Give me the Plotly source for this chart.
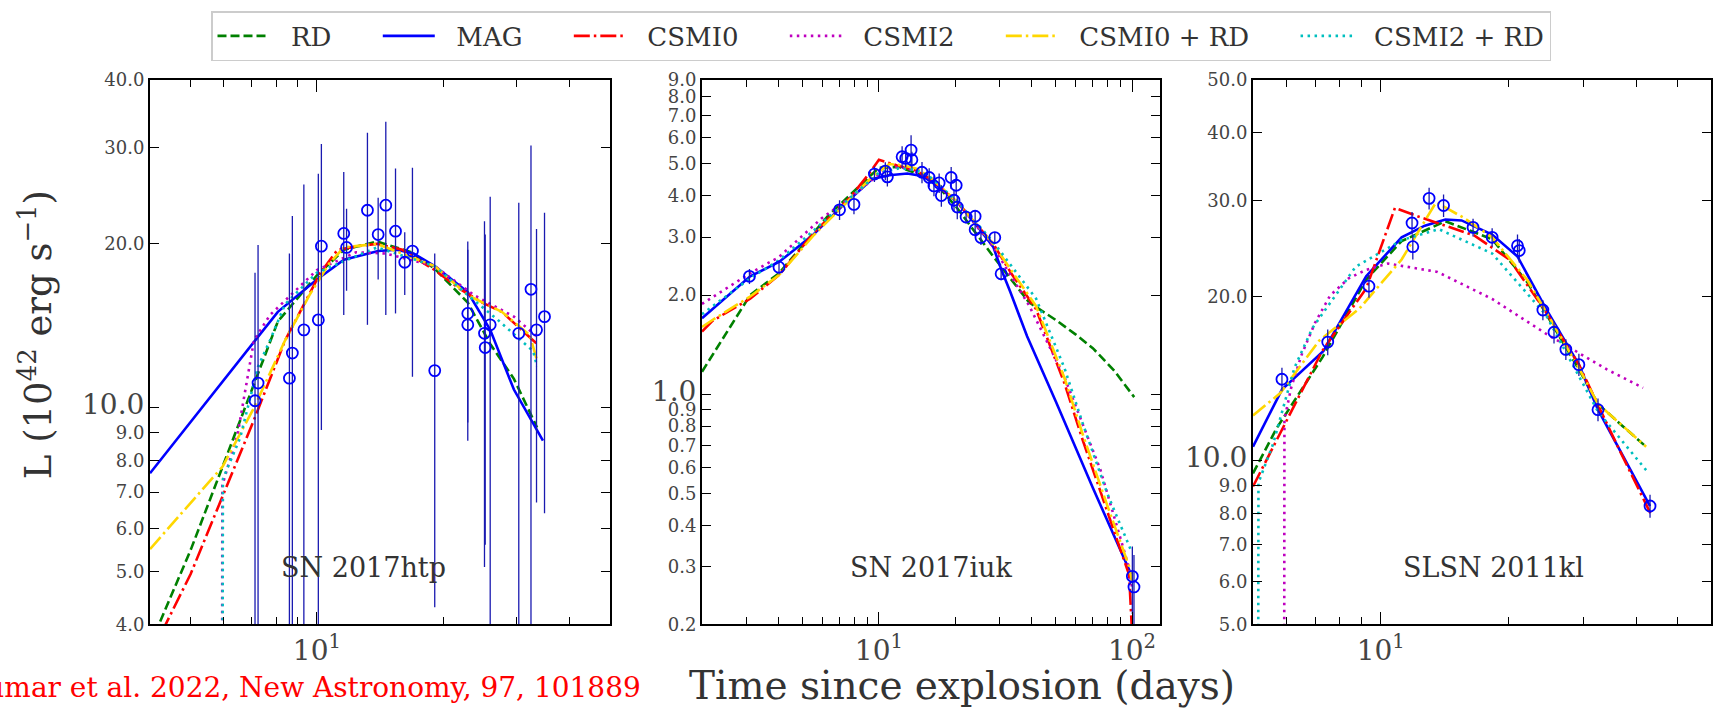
import numpy as np
import plotly.graph_objects as go

W, H = 1715, 715

# ---------------- data ----------------
# Panel 1: SN 2017htp
t1 = [7.12, 7.24, 8.60, 8.74, 9.31, 10.08, 10.25, 11.59, 11.77, 13.2, 14.0, 14.6, 15.4,
      16.2, 16.9, 19.1, 22.9, 22.9, 25.1, 25.2, 25.9, 30.3, 32.4, 33.4, 34.9]
L1 = [10.3, 11.1, 11.33, 12.6, 13.9, 14.5, 19.8, 20.9, 19.7, 23.05, 20.8, 23.55, 21.1,
      18.5, 19.4, 11.7, 14.9, 14.2, 13.7, 12.9, 14.2, 13.7, 16.5, 13.9, 14.7]
L1_hi = [17.7, 19.9, 19.2, 22.5, 25.7, 26.9, 30.5, 27.1, 23.2, 32.0, 24.3, 33.5, 27.5,
         21.0, 27.6, 19.2, 19.5, 20.2, 22.0, 20.8, 24.4, 23.8, 30.3, 21.3, 22.8]
L1_lo = [2.0, 2.0, 2.0, 2.0, 2.0, 2.0, 9.1, 14.8, 16.4, 14.2, 17.2, 14.8, 14.9,
         16.1, 11.4, 4.3, 8.7, 9.4, 5.1, 5.6, 2.0, 2.0, 2.0, 6.7, 6.4]

p1_RD_t = [4.0, 4.2, 5.01, 5.96, 7.08, 8.07, 10.0, 11.6, 13.9, 16.8, 19.1, 22.9, 25.9, 29.5, 33.5]
p1_RD_L = [3.66, 4.0, 5.5, 7.8, 11.1, 14.4, 17.5, 19.5, 20.2, 19.3, 18.0, 15.6, 13.1, 11.3, 9.2]
p1_MAG_t = [4.0, 7.12, 8.07, 10.0, 11.6, 14.0, 15.5, 17.0, 19.1, 22.9, 25.9, 29.5, 34.6]
p1_MAG_L = [7.58, 13.3, 15.0, 17.2, 18.7, 19.4, 19.5, 19.2, 18.2, 16.3, 13.9, 10.8, 8.7]
p1_C0_t = [4.0, 4.36, 5.0, 7.08, 8.4, 10.2, 11.2, 12.5, 13.9, 16.0, 19.1, 22.0, 24.8, 27.6, 32.8, 33.5]
p1_C0_L = [3.5, 4.0, 4.95, 9.5, 13.3, 17.7, 19.5, 19.8, 20.0, 19.5, 17.9, 16.5, 15.6, 15.0, 13.3, 13.1]
p1_C2_t = [5.94, 5.95, 6.49, 7.08, 7.73, 10.0, 12.4, 14.6, 19.1, 23.7, 29.5, 33.9]
p1_C2_L = [2.0, 7.2, 9.05, 13.3, 14.8, 17.9, 19.3, 19.2, 18.2, 16.1, 14.7, 13.4]
p1_C0RD_t = [4.0, 5.0, 5.96, 7.08, 8.4, 9.6, 10.7, 11.6, 13.9, 19.1, 22.9, 27.6, 32.2, 33.5]
p1_C0RD_L = [5.5, 6.7, 7.8, 10.0, 13.3, 16.1, 18.4, 19.7, 20.0, 18.2, 16.1, 15.0, 13.6, 12.2]
p1_C2RD_t = [5.95, 5.97, 6.56, 7.24, 7.73, 8.4, 10.0, 13.9, 19.1, 22.9, 27.0, 32.8, 33.5]
p1_C2RD_L = [2.0, 7.4, 8.8, 11.9, 13.3, 15.5, 17.7, 19.7, 18.2, 16.1, 14.5, 12.7, 11.9]

# Panel 2: SN 2017iuk
t2 = [3.08, 4.03, 6.99, 7.97, 9.6, 10.6, 10.8, 12.35, 12.76, 13.4, 13.5, 14.8, 15.8, 16.5,
      17.3, 17.65, 19.3, 19.8, 20.2, 20.4, 22.1, 24.0, 24.0, 25.3, 28.7, 30.4, 100.3, 101.8]
L2 = [2.28, 2.43, 3.63, 3.77, 4.66, 4.76, 4.57, 5.26, 5.2, 5.51, 5.15, 4.72, 4.55, 4.29,
      4.38, 4.01, 4.55, 3.88, 4.31, 3.7, 3.45, 3.47, 3.16, 2.99, 2.99, 2.32, 0.28, 0.26]
L2_err = [0.12, 0.12, 0.25, 0.25, 0.25, 0.3, 0.3, 0.4, 0.3, 0.6, 0.3, 0.35, 0.3, 0.3,
          0.3, 0.3, 0.35, 0.3, 0.3, 0.3, 0.15, 0.15, 0.15, 0.15, 0.12, 0.1, 0.065, 0.065]

p2_RD_t = [2.0, 3.1, 4.03, 6.34, 10.0, 12.0, 16.2, 20.4, 28.3, 39.2, 50.0, 59.8, 70.0, 85.0, 102.0]
p2_RD_L = [1.17, 2.0, 2.33, 3.5, 4.87, 4.9, 4.5, 3.67, 2.62, 1.9, 1.68, 1.52, 1.38, 1.18, 0.98]
p2_MAG_t = [2.0, 3.1, 4.03, 5.5, 7.0, 8.5, 9.4, 11.0, 12.95, 14.8, 17.0, 20.4, 24.0, 28.3, 30.4, 33.0, 38.5, 50.0, 70.0, 100.0]
p2_MAG_L = [1.70, 2.28, 2.52, 3.05, 3.66, 4.2, 4.5, 4.62, 4.68, 4.6, 4.3, 3.83, 3.3, 2.8, 2.4, 2.05, 1.5, 0.95, 0.52, 0.28]
p2_C0_t = [2.0, 2.2, 3.1, 4.03, 5.55, 7.7, 9.0, 10.0, 11.8, 13.8, 16.0, 20.4, 28.3, 33.3, 41.8, 54.1, 63.7, 79.8, 97.4, 100.0]
p2_C0_L = [1.55, 1.67, 1.95, 2.3, 3.1, 3.96, 4.6, 5.15, 4.95, 4.8, 4.5, 3.83, 2.86, 2.33, 1.81, 1.08, 0.73, 0.44, 0.283, 0.19]
p2_C2_t = [2.0, 2.5, 3.1, 4.03, 5.94, 7.7, 10.0, 11.5, 13.0, 16.0, 20.4, 28.3, 39.2, 54.0, 75.0, 97.0, 100.0]
p2_C2_L = [1.88, 2.1, 2.33, 2.61, 3.42, 3.95, 4.65, 4.9, 4.85, 4.5, 3.83, 2.8, 1.86, 1.13, 0.59, 0.3, 0.26]
p2_C0RD_t = [2.0, 2.2, 3.1, 4.03, 5.55, 7.7, 9.5, 11.0, 12.5, 14.0, 16.0, 20.4, 28.3, 33.3, 41.8, 54.1, 63.7, 79.8, 97.4, 100.0]
p2_C0RD_L = [1.6, 1.68, 1.98, 2.3, 3.05, 3.9, 4.6, 5.0, 4.95, 4.85, 4.55, 3.83, 2.86, 2.38, 1.85, 1.12, 0.76, 0.46, 0.3, 0.27]
p2_C2RD_t = [2.0, 3.1, 4.03, 5.55, 7.7, 10.0, 12.0, 14.0, 16.0, 20.4, 28.3, 33.3, 41.8, 54.1, 63.7, 79.8, 100.0]
p2_C2RD_L = [1.75, 2.25, 2.55, 3.15, 3.95, 4.7, 4.85, 4.8, 4.55, 3.85, 2.9, 2.45, 1.95, 1.2, 0.82, 0.5, 0.33]

# Panel 3: SLSN 2011kl
t3 = [5.85, 7.5, 9.38, 11.85, 11.9, 13.0, 14.06, 16.5, 18.3, 21.0, 21.2, 24.1, 25.6, 27.3, 29.3, 32.5, 43.1]
L3 = [14.1, 16.5, 20.9, 27.3, 24.7, 30.3, 29.4, 26.8, 25.7, 24.8, 24.3, 18.9, 17.2, 16.0, 15.0, 12.4, 8.25]
L3_err = [0.7, 0.9, 1.0, 1.3, 1.3, 1.4, 1.4, 1.0, 1.0, 1.2, 1.2, 0.8, 0.8, 0.7, 0.7, 0.6, 0.4]

p3_RD_t = [5.0, 5.68, 7.3, 9.24, 11.2, 14.2, 18.3, 22.2, 29.3, 32.5, 37.0, 42.2]
p3_RD_L = [9.47, 11.45, 15.5, 21.5, 25.3, 27.5, 25.5, 21.2, 14.7, 12.7, 11.6, 10.6]
p3_MAG_t = [5.0, 5.85, 7.33, 9.24, 11.2, 12.7, 14.2, 15.5, 18.3, 21.0, 24.5, 29.3, 32.5, 43.1]
p3_MAG_L = [10.6, 13.5, 15.9, 21.8, 25.7, 27.0, 27.7, 27.6, 26.0, 23.7, 19.0, 15.0, 12.4, 8.25]
p3_C0_t = [5.0, 6.03, 7.28, 9.24, 10.8, 12.2, 16.6, 20.1, 24.0, 29.3, 36.2, 43.2]
p3_C0_L = [8.96, 11.9, 15.9, 20.7, 29.1, 28.1, 25.9, 23.4, 19.2, 15.0, 10.6, 8.0]
p3_C2_t = [5.92, 5.93, 6.15, 6.5, 7.0, 7.6, 8.4, 9.24, 10.4, 13.6, 18.3, 24.5, 34.1, 41.5]
p3_C2_L = [3.0, 11.9, 13.6, 15.6, 17.9, 20.1, 21.6, 22.4, 23.0, 22.2, 19.8, 17.1, 14.7, 13.6]
p3_C0RD_t = [5.0, 5.8, 7.16, 8.9, 11.2, 13.5, 15.7, 18.3, 22.2, 29.3, 32.5, 42.2]
p3_C0RD_L = [12.1, 13.3, 16.6, 19.0, 23.4, 29.8, 27.9, 25.7, 21.4, 14.8, 12.7, 10.6]
p3_C2RD_t = [5.14, 5.15, 5.57, 6.26, 6.9, 8.73, 11.2, 13.7, 18.3, 24.5, 32.5, 42.2]
p3_C2RD_L = [3.0, 9.1, 10.7, 14.8, 17.5, 22.7, 25.4, 26.6, 24.0, 18.5, 12.3, 9.6]

model_names = ["RD", "MAG", "CSMI0", "CSMI2", "CSMI0 + RD", "CSMI2 + RD"]
panel_names = ["SN 2017htp", "SN 2017iuk", "SLSN 2011kl"]

# axis limits (data units)
x_lims = [(4.0, 50.0), (2.0, 129.0), (5.0, 60.0)]
y_lims = [(4.0, 40.0), (0.2, 9.0), (5.0, 50.0)]

y_ticks = [
    [4, 5, 6, 7, 8, 9, 10, 20, 30, 40],
    [0.2, 0.3, 0.4, 0.5, 0.6, 0.7, 0.8, 0.9, 1, 2, 3, 4, 5, 6, 7, 8, 9],
    [5, 6, 7, 8, 9, 10, 20, 30, 40, 50],
]
y_major = [10, 1, 10]
x_major = [[10], [10, 100], [10]]
x_major_text = [["10<sup>1</sup>"], ["10<sup>1</sup>", "10<sup>2</sup>"], ["10<sup>1</sup>"]]
x_minor = [
    [5, 6, 7, 8, 9, 20, 30, 40],
    [3, 4, 5, 6, 7, 8, 9, 20, 30, 40, 50, 60, 70, 80, 90],
    [6, 7, 8, 9, 20, 30, 40, 50],
]

# ---------------- styles ----------------
styles = {
    "RD": dict(color="#008000", dash="9px,4px"),
    "MAG": dict(color="#0000ff", dash="solid"),
    "CSMI0": dict(color="#ff0000", dash="16px,4px,2.5px,4px"),
    "CSMI2": dict(color="#bf00bf", dash="2.5px,4.5px"),
    "CSMI0 + RD": dict(color="#ffd700", dash="16px,4px,2.5px,4px"),
    "CSMI2 + RD": dict(color="#00bfbf", dash="2.5px,4.5px"),
}

panels = [
    dict(models=[(p1_RD_t, p1_RD_L), (p1_MAG_t, p1_MAG_L), (p1_C0_t, p1_C0_L),
                 (p1_C2_t, p1_C2_L), (p1_C0RD_t, p1_C0RD_L), (p1_C2RD_t, p1_C2RD_L)],
         t=t1, L=L1, eplus=list(np.array(L1_hi) - np.array(L1)),
         eminus=list(np.array(L1) - np.array(L1_lo))),
    dict(models=[(p2_RD_t, p2_RD_L), (p2_MAG_t, p2_MAG_L), (p2_C0_t, p2_C0_L),
                 (p2_C2_t, p2_C2_L), (p2_C0RD_t, p2_C0RD_L), (p2_C2RD_t, p2_C2RD_L)],
         t=t2, L=L2, eplus=L2_err, eminus=L2_err),
    dict(models=[(p3_RD_t, p3_RD_L), (p3_MAG_t, p3_MAG_L), (p3_C0_t, p3_C0_L),
                 (p3_C2_t, p3_C2_L), (p3_C0RD_t, p3_C0RD_L), (p3_C2RD_t, p3_C2RD_L)],
         t=t3, L=L3, eplus=L3_err, eminus=L3_err),
]

# pixel layout
x_px = [(150, 610), (702, 1160), (1253, 1711)]
y_px = (71, 632)  # top, bottom

SERIF = "DejaVu Serif"
NB = "\u00a0"
fig = go.Figure()

for i, p in enumerate(panels):
    xa = "x" if i == 0 else f"x{i+1}"
    ya = "y" if i == 0 else f"y{i+1}"
    for k, (name, (tt, LL)) in enumerate(zip(model_names, p["models"])):
        st = styles[name]
        pad_right = NB * 5 if k < len(model_names) - 1 else ""
        fig.add_trace(go.Scatter(
            x=tt, y=LL, mode="lines", name=NB * 2 + name + pad_right, legendgroup=name,
            showlegend=(i == 0), xaxis=xa, yaxis=ya,
            line=dict(color=st["color"], dash=st["dash"], width=2.6),
            hoverinfo="skip"))
    fig.add_trace(go.Scatter(
        x=p["t"], y=p["L"], mode="markers", showlegend=False, xaxis=xa, yaxis=ya,
        marker=dict(symbol="circle-open", size=11, color="#0000ff", line=dict(width=1.8, color="#0000ff")),
        error_y=dict(type="data", symmetric=False, array=p["eplus"], arrayminus=p["eminus"],
                     color="#1a1ab0", thickness=1.3, width=0)))

layout = dict(
    width=W, height=H, margin=dict(l=0, r=0, t=0, b=0),
    paper_bgcolor="white", plot_bgcolor="white",
    font=dict(family=SERIF, color="#333333"),
    showlegend=True,
    legend=dict(orientation="h", x=211 / W, y=1.0, xanchor="left", yanchor="top",
                font=dict(family=SERIF, size=26, color="#333333"),
                bordercolor="#cccccc", borderwidth=1.5, bgcolor="white",
                itemwidth=52, traceorder="normal"),
)

for i in range(3):
    xk = "xaxis" if i == 0 else f"xaxis{i+1}"
    yk = "yaxis" if i == 0 else f"yaxis{i+1}"
    ya_name = "y" if i == 0 else f"y{i+1}"
    xa_name = "x" if i == 0 else f"x{i+1}"
    x0, x1 = x_px[i]
    layout[xk] = dict(
        type="log", domain=[x0 / W, x1 / W],
        range=[np.log10(x_lims[i][0]), np.log10(x_lims[i][1])],
        anchor=ya_name, showline=True, linecolor="black", linewidth=2, mirror="allticks",
        ticks="inside", ticklen=12, tickwidth=1.3, tickcolor="black",
        tickmode="array", tickvals=x_major[i], ticktext=x_major_text[i],
        tickfont=dict(family=SERIF, size=28, color="#444444"),
        minor=dict(tickmode="array", tickvals=x_minor[i], ticks="inside", ticklen=7,
                   tickwidth=1.1, tickcolor="black", showgrid=False),
        showgrid=False, zeroline=False,
    )
    ttext = []
    for v in y_ticks[i]:
        s = f"{v:.1f}"
        if abs(v - y_major[i]) < 1e-9:
            ttext.append(f'<span style="font-size:28px">{s}</span>')
        else:
            ttext.append(s)
    layout[yk] = dict(
        type="log", domain=[(H - y_px[1]) / H, (H - y_px[0]) / H],
        range=[np.log10(y_lims[i][0]), np.log10(y_lims[i][1])],
        anchor=xa_name, showline=True, linecolor="black", linewidth=2, mirror="allticks",
        ticks="inside", ticklen=9, tickwidth=1.3, tickcolor="black",
        tickmode="array", tickvals=y_ticks[i], ticktext=ttext,
        tickfont=dict(family=SERIF, size=18, color="#444444"),
        showgrid=False, zeroline=False,
    )

fig.update_layout(**layout)

# panel labels
label_cx = [363, 931, 1493]
for i, name in enumerate(panel_names):
    fig.add_annotation(text=name, x=label_cx[i] / W, y=(H - 573) / H, xref="paper", yref="paper",
                       showarrow=False, xanchor="center", yanchor="middle",
                       font=dict(family=SERIF, size=27, color="#333333"))

# axis titles
fig.add_annotation(text="Time since explosion (days)", x=962 / W, y=(H - 695) / H,
                   xref="paper", yref="paper", showarrow=False, xanchor="center", yanchor="middle",
                   font=dict(family=SERIF, size=39, color="#333333"))
fig.add_annotation(text="L (10<sup>42</sup> erg s<sup>\u22121</sup>)", x=36 / W, y=(H - 334) / H,
                   xref="paper", yref="paper", showarrow=False, textangle=-90,
                   xanchor="center", yanchor="middle",
                   font=dict(family=SERIF, size=37, color="#333333"))

# citation
fig.add_annotation(text="Kumar et al. 2022, New Astronomy, 97, 101889", x=643 / W, y=(H - 697) / H,
                   xref="paper", yref="paper", showarrow=False, xanchor="right", yanchor="middle",
                   font=dict(family="Roboto Slab, DejaVu Serif", size=28, color="#ff0000"))

fig.write_html("out.html")
